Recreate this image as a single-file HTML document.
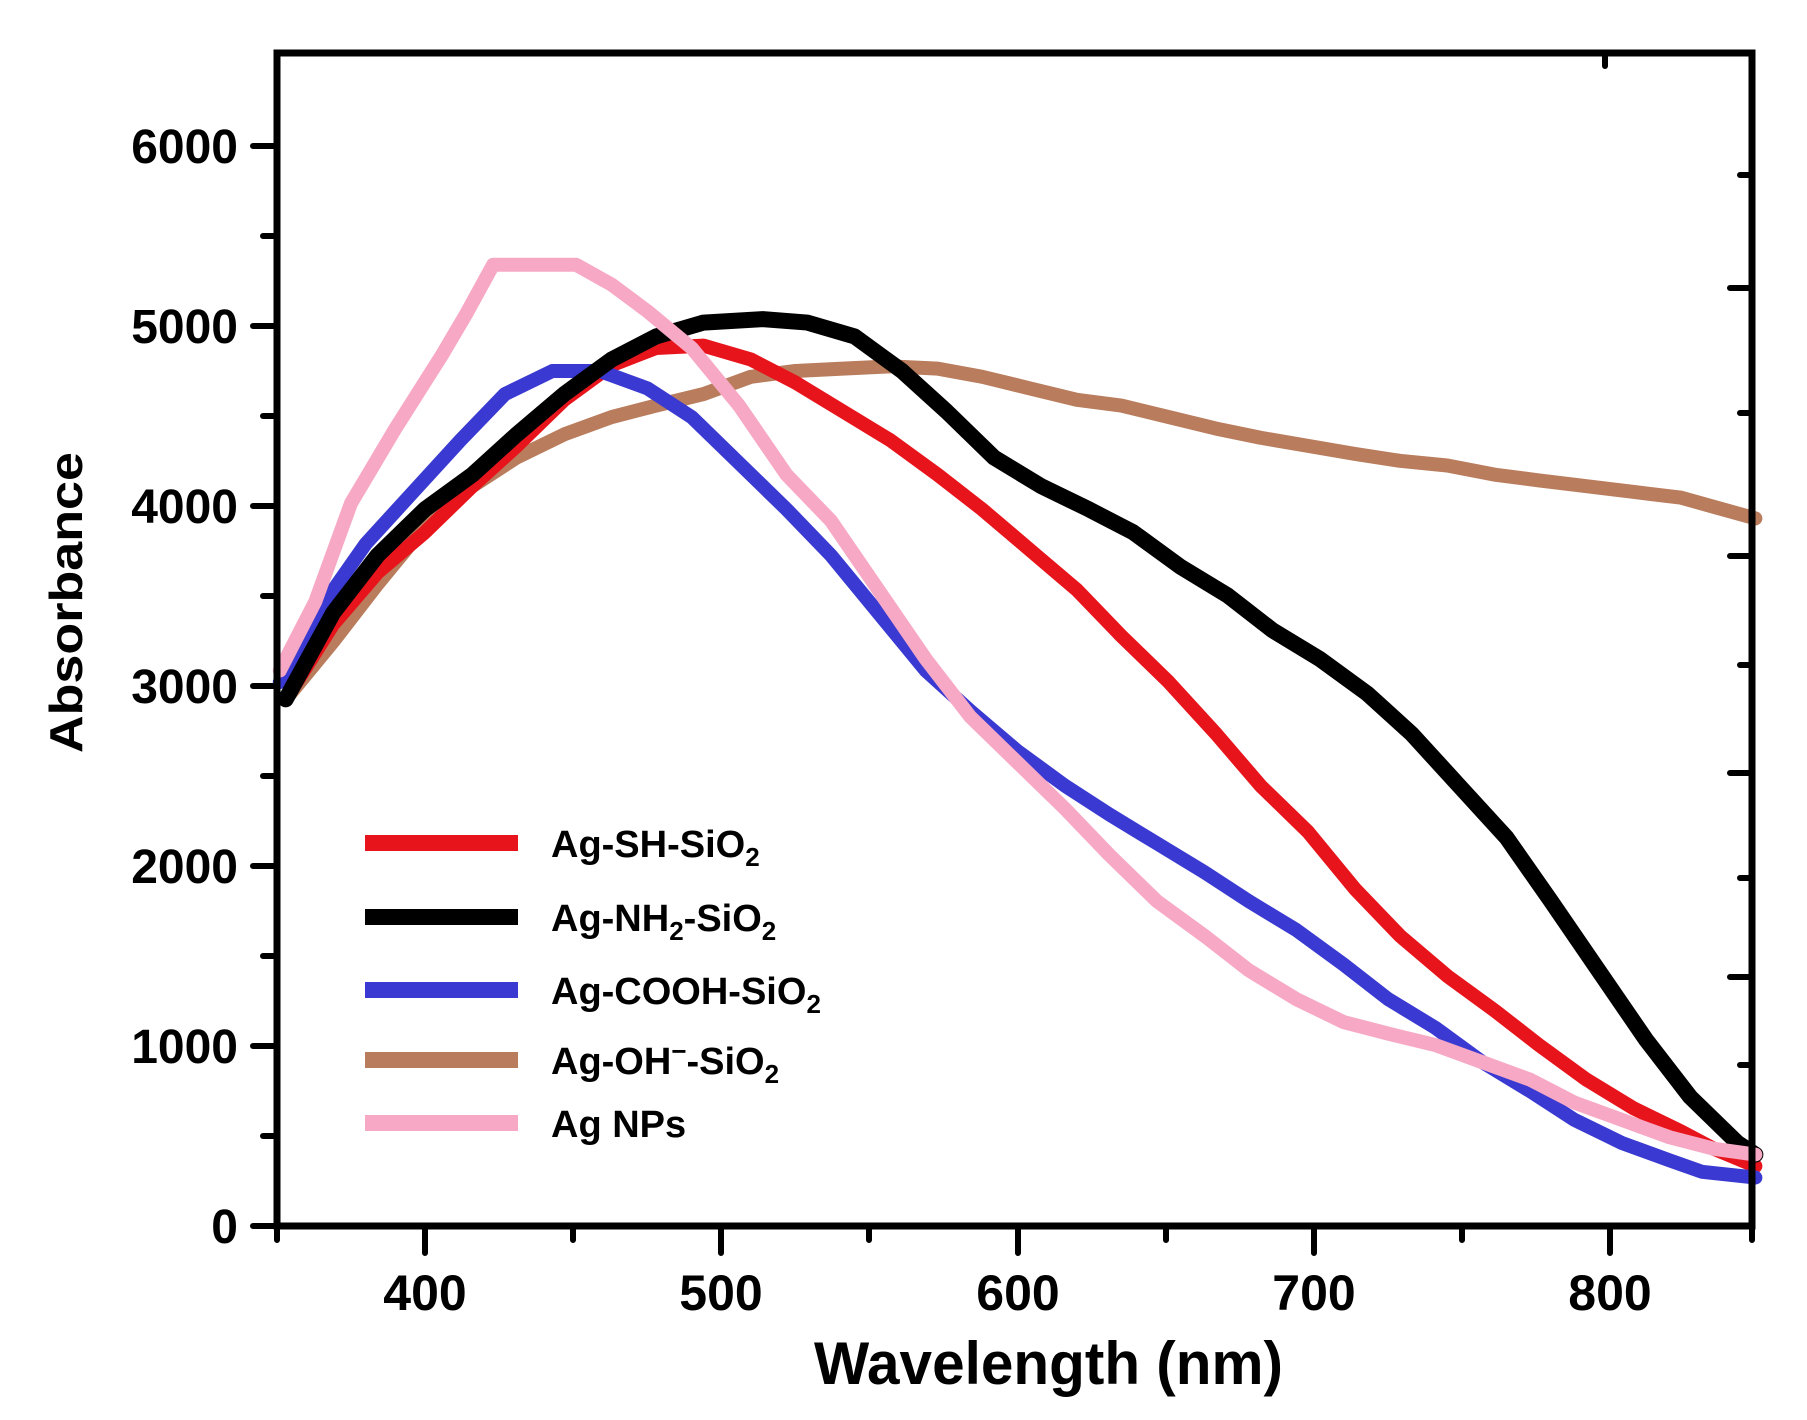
<!DOCTYPE html>
<html><head><meta charset="utf-8"><style>html,body{margin:0;padding:0;background:#fff}svg{display:block}</style></head>
<body>
<svg width="1807" height="1420" viewBox="0 0 1807 1420" xmlns="http://www.w3.org/2000/svg" font-family="Liberation Sans, Arial, sans-serif" font-weight="bold">
<rect width="1807" height="1420" fill="#fff"/>
<g fill="none" stroke-linejoin="round" stroke-linecap="round" stroke-width="14" transform="matrix(2.963 0 0 -0.18 -760.2 1226)">
<polyline vector-effect="non-scaling-stroke" stroke="#b97c5c" points="353,2926 369,3246 384,3566 400,3886 416,4110 431,4270 447,4398 463,4494 478,4558 494,4622 510,4718 525,4750 541,4763 557,4776 573,4763 588,4718 604,4654 620,4590 635,4558 651,4494 667,4430 682,4379 698,4334 714,4289 729,4251 745,4225 761,4174 776,4142 792,4110 808,4078 824,4046 835,3995 849,3931"/>
<polyline vector-effect="non-scaling-stroke" stroke="#e8141c" points="353,2926 369,3342 384,3630 400,3854 416,4110 431,4334 447,4590 463,4782 478,4878 494,4891 510,4814 525,4686 541,4526 557,4366 573,4174 588,3982 604,3758 620,3534 635,3278 651,3022 667,2734 682,2446 698,2190 714,1870 729,1613 745,1389 761,1197 776,1005 792,813 808,653 824,525 835,429 849,333"/>
<polyline vector-effect="non-scaling-stroke" stroke="#3a3ad2" points="351,3022 365,3438 380,3790 396,4078 412,4366 427,4622 443,4750 459,4750 475,4654 490,4494 506,4238 522,3982 537,3726 553,3406 569,3086 584,2862 600,2638 616,2446 631,2286 647,2126 663,1966 678,1805 694,1645 710,1453 725,1261 741,1101 757,909 773,749 788,589 804,461 820,365 831,301 849,269"/>
<polyline vector-effect="non-scaling-stroke" stroke="#000" stroke-width="16" points="353,2926 369,3406 384,3726 400,3982 416,4174 431,4398 447,4622 463,4814 478,4942 494,5019 514,5038 529,5019 545,4942 561,4750 576,4526 592,4270 608,4110 624,3982 639,3854 655,3662 671,3502 686,3310 702,3150 718,2958 733,2734 749,2446 765,2158 780,1805 796,1421 812,1037 827,717 843,461 849,397"/>
<polyline vector-effect="non-scaling-stroke" stroke="#f7a8c4" points="351,3086 363,3470 375,4014 390,4430 406,4846 414,5070 423,5340 451,5340 463,5230 475,5083 490,4878 506,4558 522,4174 537,3918 553,3534 569,3150 584,2830 600,2574 616,2318 631,2061 647,1805 663,1613 678,1421 694,1261 710,1133 725,1069 741,1005 757,909 773,813 788,685 804,589 820,493 835,429 849,397"/>
</g>
<g stroke="#000" stroke-width="6" stroke-linecap="round" fill="none">
<rect x="277" y="53" width="1475" height="1173" stroke-width="7"/>
<path d="M253 1226H277M253 1046H277M253 866H277M253 686H277M253 506H277M253 326H277M253 146H277"/>
<path d="M263 1136H277M263 956H277M263 776H277M263 596H277M263 416H277M263 236H277"/>
<path d="M425 1226V1253M721 1226V1253M1018 1226V1253M1314 1226V1253M1610 1226V1253"/>
<path d="M277 1226V1240M573 1226V1240M869 1226V1240M1166 1226V1240M1462 1226V1240M1752 1226V1240"/>
<path d="M1730 288H1752M1730 556H1752M1730 773H1752M1730 977H1752"/>
<path d="M1740 175H1752M1740 413H1752M1740 665H1752M1740 878H1752M1740 1065H1752"/>
<path d="M1605 53V66"/>
</g>
<g font-size="48" fill="#000" text-anchor="end">
<text x="238" y="1243">0</text>
<text x="238" y="1063">1000</text>
<text x="238" y="883">2000</text>
<text x="238" y="703">3000</text>
<text x="238" y="523">4000</text>
<text x="238" y="343">5000</text>
<text x="238" y="163">6000</text>
</g>
<g font-size="50" fill="#000" text-anchor="middle">
<text x="425" y="1310">400</text>
<text x="721" y="1310">500</text>
<text x="1018" y="1310">600</text>
<text x="1314" y="1310">700</text>
<text x="1610" y="1310">800</text>
</g>
<text x="814" y="1384" font-size="60" textLength="469" lengthAdjust="spacingAndGlyphs">Wavelength (nm)</text>
<text transform="translate(82,753) rotate(-90)" font-size="46" textLength="301" lengthAdjust="spacingAndGlyphs">Absorbance</text>
<g stroke-width="16" stroke-linecap="butt">
<path d="M365 843H518" stroke="#e8141c"/>
<path d="M365 917H518" stroke="#000"/>
<path d="M365 990H518" stroke="#3a3ad2"/>
<path d="M365 1060H518" stroke="#b97c5c"/>
<path d="M365 1123H518" stroke="#f7a8c4"/>
</g>
<g font-size="38" fill="#000">
<text x="551" y="857">Ag-SH-SiO<tspan font-size="26" dy="9">2</tspan></text>
<text x="551" y="931">Ag-NH<tspan font-size="26" dy="9">2</tspan><tspan dy="-9">-SiO</tspan><tspan font-size="26" dy="9">2</tspan></text>
<text x="551" y="1004">Ag-COOH-SiO<tspan font-size="26" dy="9">2</tspan></text>
<text x="551" y="1074">Ag-OH<tspan font-size="26" dy="-14">−</tspan><tspan dy="14">-SiO</tspan><tspan font-size="26" dy="9">2</tspan></text>
<text x="551" y="1137">Ag NPs</text>
</g>
</svg>
</body></html>
